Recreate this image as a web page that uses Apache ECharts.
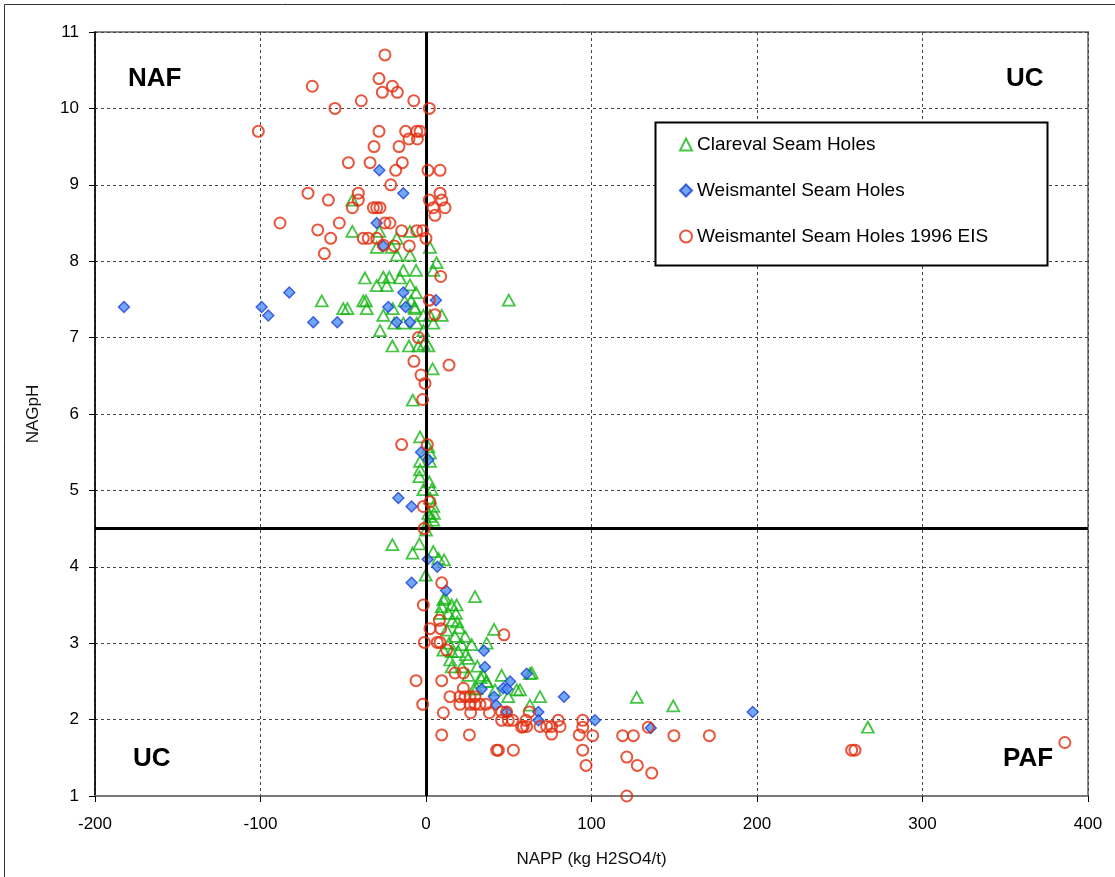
<!DOCTYPE html>
<html>
<head>
<meta charset="utf-8">
<title>NAGpH vs NAPP</title>
<script src="https://cdn.jsdelivr.net/npm/echarts@6/dist/echarts.min.js"></script>
<style>
  html, body { margin: 0; padding: 0; background: #fff; }
  #chart { width: 1115px; height: 877px; }
</style>
</head>
<body>
<div id="chart"></div>
<script>
// Series names
const seriesNames = ['Clareval Seam Holes', 'Weismantel Seam Holes', 'Weismantel Seam Holes 1996 EIS'];

// Clareval Seam Holes: [NAPP, NAGpH]
const clarevalPts = [
  [-44.5,8.8],[-44.5,8.39],[-28.2,8.39],[-9.7,8.39],[-17.7,8.30],[-29.8,8.18],[-20.7,8.18],[-17.7,8.08],
  [-9.7,8.08],[2.4,8.18],[6.4,7.98],[4.4,7.88],[-13.7,7.88],[-6.0,7.88],[-36.9,7.78],[-25.8,7.79],
  [-22.2,7.79],[-29.8,7.68],[-23.7,7.68],[-15.7,7.78],[-9.7,7.69],[-6.0,7.59],[-63.0,7.48],[-37.9,7.48],
  [-36.3,7.48],[-50.0,7.38],[-47.5,7.38],[-35.8,7.38],[-13,7.48],[-9,7.48],[-7,7.40],[-25.8,7.29],
  [-20.1,7.38],[-6.6,7.38],[-1.6,7.29],[2.4,7.29],[9.5,7.29],[-19.2,7.19],[-13.7,7.19],[-5.6,7.19],
  [4.4,7.19],[-27.8,7.09],[-1.6,7.09],[-20.3,6.89],[-10.3,6.89],[-4.6,6.89],[1.4,6.89],[-1.4,6.91],
  [4.0,6.59],[-8.0,6.18],[50,7.49],
  [-3.6,5.70],[1.4,5.57],[2.4,5.49],[2.4,5.38],[-3.6,5.38],[-3.6,5.27],[-4.0,5.18],[2.0,5.11],
  [-1.6,5.01],[3.4,5.01],[2.4,4.90],[4.4,4.79],[1.4,4.70],[4.8,4.70],[2.4,4.66],[4.4,4.61],
  [0.8,4.57],[0,4.48],[-20.3,4.29],[-4.0,4.30],[-8.1,4.18],[4.4,4.20],[7.5,4.11],[10.9,4.09],[-0.2,3.89],
  [29.6,3.61],[11.5,3.59],[10.5,3.57],[15.5,3.50],[18.5,3.50],[9.5,3.48],[8.5,3.39],[13.5,3.39],
  [18.1,3.39],[18.9,3.28],[16,3.3],[12.5,3.17],[20,3.2],[17.5,3.09],[23.6,3.09],[27.6,2.98],[21.6,2.98],
  [14,3.0],[10.5,2.91],[15.5,2.89],[19.5,2.89],[24,2.85],[25.6,2.80],[14.5,2.78],[21.6,2.69],[15.5,2.69],
  [31,2.7],[25.6,2.58],[33,2.55],[36.7,3.00],[41.1,3.18],[34.6,2.58],[36.7,2.50],[45.7,2.58],[30.6,2.41],
  [41.7,2.39],[49.7,2.30],[54.8,2.39],[56.8,2.39],[68.9,2.30],[62.8,2.19],[63.9,2.61],[62.8,2.60],
  [36.3,2.50],[29.0,2.40],[127.3,2.29],[149.4,2.18],[267,1.9]
];

// Weismantel Seam Holes
const weismantelPts = [
  [-182.5,7.40],[-99.3,7.40],[-95.3,7.29],[-82.6,7.59],[-68.1,7.20],[-53.6,7.20],[-28.2,9.19],[-13.7,8.89],
  [-29.8,8.50],[-25.8,8.20],[-13.7,7.59],[-22.8,7.40],[-12.3,7.40],[-17.7,7.20],[-9.7,7.20],[6.0,7.49],
  [-3.0,5.50],[1.4,5.40],[-16.7,4.90],[-8.7,4.79],[1.0,4.10],[6.8,4.00],[-8.7,3.79],[12.1,3.69],
  [35.0,2.90],[35.6,2.69],[60.8,2.60],[33.6,2.40],[46.7,2.41],[50.8,2.50],[49.1,2.40],[41.1,2.30],
  [42.3,2.19],[83.4,2.30],[67.9,2.10],[67.9,1.99],[48.7,2.10],[102.1,1.99],[135.8,1.89],[197.4,2.10]
];

// Weismantel Seam Holes 1996 EIS
const eisPts = [
  [-24.8,10.70],[-68.7,10.29],[-28.4,10.39],[-20.3,10.29],[-26.4,10.21],[-17.3,10.21],[-39.1,10.10],[-7.4,10.10],
  [-55.0,10.0],[2.0,10.0],[-101.3,9.70],[-28.4,9.70],[-12.3,9.70],[-5.6,9.70],[-3.6,9.70],[-10.3,9.60],
  [-5.2,9.60],[-31.4,9.50],[-16.3,9.50],[-46.9,9.29],[-33.8,9.29],[-14.3,9.29],[1.2,9.19],[8.5,9.19],
  [-18.3,9.19],[-21.3,9.0],[-71.3,8.89],[-40.9,8.89],[8.5,8.89],[-59.0,8.80],[-40.9,8.80],[-44.5,8.70],
  [2.0,8.80],[9.5,8.80],[4.4,8.70],[11.5,8.70],[5.4,8.60],[-31.8,8.70],[-29.8,8.70],[-27.8,8.70],
  [-88.2,8.50],[-65.4,8.41],[-52.4,8.50],[-24.8,8.50],[-21.8,8.50],
  [-57.6,8.30],[-61.4,8.10],[-37.9,8.30],[-34.9,8.30],[-29.8,8.30],[-25.8,8.21],[-19.2,8.20],[-14.7,8.40],
  [-10.1,8.20],[-5.6,8.40],[-2.0,8.40],[0,8.30],[8.9,7.80],[2.0,7.49],[5.4,7.30],[-4.6,7.00],
  [-7.3,6.69],[13.9,6.64],[-3.0,6.51],[-0.6,6.40],[-2.0,6.19],
  [-14.7,5.60],[0.8,5.60],[2.4,4.85],[-1.6,4.79],[-1.2,4.50],[9.5,3.79],
  [-1.6,3.50],[8.1,3.30],[2.4,3.19],[8.9,3.19],[-1.0,3.01],[6.8,3.01],[8.5,3.01],[12.5,2.91],
  [47.1,3.11],[17.5,2.61],[22.6,2.61],[-6.0,2.51],[9.5,2.51],[22.6,2.41],[14.5,2.30],[20.5,2.30],
  [23.6,2.30],[26.6,2.30],[29.6,2.30],[20.5,2.20],[26.6,2.20],[29.6,2.20],[32.6,2.20],[36.3,2.20],
  [-2.0,2.20],[10.5,2.09],[27.0,2.09],[38.3,2.09],[45.7,2.10],[48.7,2.10],[45.7,1.99],[49.7,1.99],
  [52.4,1.99],[58.8,1.91],[60.8,1.91],[62.4,2.10],[68.9,1.91],[72.9,1.91],[75.9,1.91],[79.9,1.99],
  [9.5,1.80],[26.2,1.80],[92.6,1.80],[81,1.91],[75.9,1.81],[42.7,1.60],[43.7,1.60],[52.8,1.60],
  [60.4,1.99],[57.8,1.90],[94.7,1.99],[94.7,1.90],[100.7,1.79],[94.7,1.60],[96.7,1.40],[118.8,1.79],
  [125.3,1.79],[121.3,1.51],[127.7,1.40],[121.3,1.00],[134.3,1.90],[149.8,1.79],[171.2,1.79],[136.4,1.30],
  [257.2,1.60],[259.2,1.60],[386,1.70]
];

// Axis ranges and classification boundaries
const xRange = { min: -200, max: 400, step: 100 };
const yRange = { min: 1, max: 11, step: 1 };
const naPPBoundary = 0;
const nagPHBoundary = 4.5;
const quadrantLabels = ['NAF', 'UC', 'UC', 'PAF'];

const FONT = '"Liberation Sans", Arial, sans-serif';
const chart = echarts.init(document.getElementById('chart'));

const gridBox = { left: 95, top: 32, width: 993, height: 764 };

const option = {
  animation: false,
  backgroundColor: '#fff',
  grid: {
    left: gridBox.left, top: gridBox.top, width: gridBox.width, height: gridBox.height,
    show: true, borderColor: '#8a8a8a', borderWidth: 2, backgroundColor: '#fff'
  },
  xAxis: {
    type: 'value', min: xRange.min, max: xRange.max, interval: xRange.step,
    name: 'NAPP (kg H2SO4/t)', nameLocation: 'middle', nameGap: 55,
    nameTextStyle: { fontFamily: FONT, fontSize: 17, color: '#111' },
    axisLine: { show: true, onZero: false, lineStyle: { color: '#7a7a7a', width: 2 } },
    axisTick: { show: true, length: 6, lineStyle: { color: '#000' } },
    axisLabel: { fontFamily: FONT, fontSize: 17, color: '#000', margin: 20 },
    splitLine: { show: true, lineStyle: { color: '#444', width: 1, type: [3, 3] } }
  },
  yAxis: {
    type: 'value', min: yRange.min, max: yRange.max, interval: yRange.step,
    name: 'NAGpH', nameLocation: 'middle', nameGap: 53, nameRotate: 90,
    nameTextStyle: { fontFamily: FONT, fontSize: 17, color: '#111' },
    axisLine: { show: true, onZero: false, lineStyle: { color: '#000', width: 1.5 } },
    axisTick: { show: true, length: 6, lineStyle: { color: '#000' } },
    axisLabel: { fontFamily: FONT, fontSize: 17, color: '#000', margin: 16 },
    splitLine: { show: true, lineStyle: { color: '#444', width: 1, type: [3, 3] } }
  },
  legend: {
    orient: 'vertical', left: 679, top: 135,
    data: seriesNames,
    itemWidth: 12, itemHeight: 12, itemGap: 27,
    textStyle: { fontFamily: FONT, fontSize: 19, color: '#000' },
    padding: 0
  },
  graphic: [
    // outer frame
    { type: 'rect', shape: { x: 4.5, y: 4.5, width: 1120, height: 880 },
      style: { fill: null, stroke: '#333', lineWidth: 1 }, silent: true, z: 100 },
    // legend frame
    { type: 'rect', shape: { x: 655.5, y: 122.5, width: 392, height: 143 },
      style: { fill: '#fff', stroke: '#000', lineWidth: 2 }, silent: true, z: 1 },
    { type: 'text', left: 128, top: 66, z: 50,
      style: { text: quadrantLabels[0], font: 'bold 26px ' + FONT, fill: '#000' } },
    { type: 'text', left: 1006, top: 66, z: 50,
      style: { text: quadrantLabels[1], font: 'bold 26px ' + FONT, fill: '#000' } },
    { type: 'text', left: 133, top: 746, z: 50,
      style: { text: quadrantLabels[2], font: 'bold 26px ' + FONT, fill: '#000' } },
    { type: 'text', left: 1003, top: 746, z: 50,
      style: { text: quadrantLabels[3], font: 'bold 26px ' + FONT, fill: '#000' } }
  ],
  series: [
    {
      name: 'boundaries', type: 'scatter', data: [], z: 1, silent: true,
      markLine: {
        silent: true, symbol: 'none', animation: false,
        label: { show: false },
        lineStyle: { color: '#000', width: 3, type: 'solid' },
        emphasis: { disabled: true },
        data: [{ xAxis: naPPBoundary }, { yAxis: nagPHBoundary }]
      }
    },
    {
      name: seriesNames[0], type: 'scatter', data: clarevalPts, z: 3,
      symbol: 'triangle', symbolSize: [12, 11],
      itemStyle: { color: 'rgba(0,0,0,0)', borderColor: '#16b516', borderWidth: 1.8 }
    },
    {
      name: seriesNames[1], type: 'scatter', data: weismantelPts, z: 4,
      symbol: 'diamond', symbolSize: 11,
      itemStyle: { color: '#4f90f5', borderColor: '#1c3fd6', borderWidth: 1.4 }
    },
    {
      name: seriesNames[2], type: 'scatter', data: eisPts, z: 5,
      symbol: 'circle', symbolSize: 11,
      itemStyle: { color: 'rgba(0,0,0,0)', borderColor: '#e22c0c', borderWidth: 2 }
    }
  ]
};

chart.setOption(option);
</script>
</body>
</html>
